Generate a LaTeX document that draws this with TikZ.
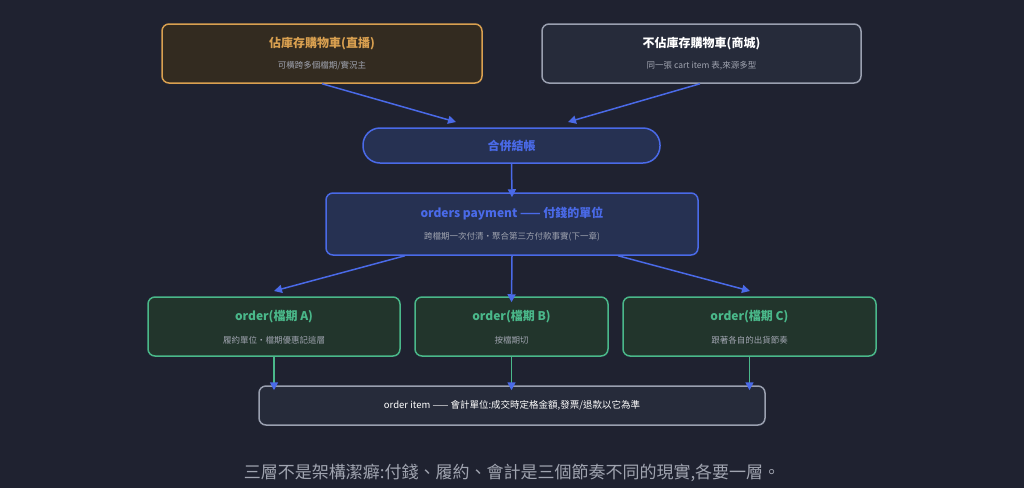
\documentclass[tikz,border=0pt]{standalone}
\usepackage{fontspec}
\setmainfont{Noto Sans CJK TC}
\usetikzlibrary{arrows.meta,positioning}
\definecolor{bgc}{HTML}{1F2230}
\definecolor{orgline}{HTML}{D9A050}
\definecolor{orgfill}{HTML}{332B20}
\definecolor{grayline}{HTML}{9AA0B0}
\definecolor{grayfill}{HTML}{262B3A}
\definecolor{blueline}{HTML}{4A6AE8}
\definecolor{bluefill}{HTML}{263152}
\definecolor{grnline}{HTML}{4AB88A}
\definecolor{grnfill}{HTML}{22352C}
\definecolor{subtxt}{HTML}{A0A4B0}
\tikzset{
  box/.style={draw, line width=1.5pt, rounded corners=7pt, inner sep=0pt, align=center},
  ttl/.style={font=\bfseries\fontsize{12}{14}\selectfont},
  sub/.style={font=\fontsize{8.5}{10}\selectfont, text=subtxt},
  arr/.style={blueline, line width=1.5pt, -{Triangle[length=8pt,width=8pt]}},
  garr/.style={grnline, line width=1.5pt, -{Triangle[length=8pt,width=8pt,color=blueline]}}
}
\begin{document}
\begin{tikzpicture}[x=1pt,y=-1pt]
  \fill[bgc] (0,0) rectangle (1024,488);
  \useasboundingbox (0,0) rectangle (1024,488);
  % carts
  \node[box, draw=orgline, fill=orgfill, minimum width=320pt, minimum height=59pt] (cartA) at (322,53.5) {};
  \node[ttl, text=orgline] at (322,44) {佔庫存購物車(直播)};
  \node[sub] at (322,66) {可橫跨多個檔期/實況主};
  \node[box, draw=grayline, fill=grayfill, minimum width=319pt, minimum height=59pt] (cartB) at (701.5,53.5) {};
  \node[ttl, text=white] at (701.5,44) {不佔庫存購物車(商城)};
  \node[sub] at (701.5,66) {同一張 cart item 表,來源多型};
  % merge
  \node[box, draw=blueline, fill=bluefill, rounded corners=17pt, minimum width=297pt, minimum height=35pt, ttl, text=blueline] (merge) at (511.5,145.5) {合併結帳};
  % payment
  \node[box, draw=blueline, fill=bluefill, minimum width=372pt, minimum height=62pt] (pay) at (512,224) {};
  \node[ttl, text=blueline] at (512,214) {orders payment —— 付錢的單位};
  \node[sub] at (512,237) {跨檔期一次付清・聚合第三方付款事實(下一章)};
  % orders
  \node[box, draw=grnline, fill=grnfill, minimum width=252pt, minimum height=59pt] (ordA) at (274,326.5) {};
  \node[ttl, text=grnline] at (274,317) {order(檔期 A)};
  \node[sub] at (274,340) {履約單位・檔期優惠記這層};
  \node[box, draw=grnline, fill=grnfill, minimum width=193pt, minimum height=59pt] (ordB) at (511.5,326.5) {};
  \node[ttl, text=grnline] at (511.5,317) {order(檔期 B)};
  \node[sub] at (511.5,340) {按檔期切};
  \node[box, draw=grnline, fill=grnfill, minimum width=253pt, minimum height=59pt] (ordC) at (749.5,326.5) {};
  \node[ttl, text=grnline] at (749.5,317) {order(檔期 C)};
  \node[sub] at (749.5,340) {跟著各自的出貨節奏};
  % item
  \node[box, draw=grayline, fill=grayfill, minimum width=506pt, minimum height=39pt, font=\fontsize{9.5}{11}\selectfont, text=white] (item) at (512,405.5) {order item —— 會計單位:成交時定格金額,發票/退款以它為準};
  % footer
  \node[font=\fontsize{17}{20}\selectfont, text=subtxt] (note) at (512,473) {三層不是架構潔癖:付錢、履約、會計是三個節奏不同的現實,各要一層。};
  % connectors
  \coordinate (mA) at (456,122);
  \coordinate (mB) at (568,122);
  \coordinate (pA) at (274,291);
  \coordinate (pC) at (750,291);
  \draw[arr] ([xshift=0pt]cartA.south) -- (mA);
  \draw[arr] ([xshift=-1.5pt]cartB.south) -- (mB);
  \draw[arr] (merge.south) -- ([yshift=-5pt]pay.north);
  \draw[arr] ([xshift=-107pt]pay.south) -- (pA);
  \draw[arr] (pay.south) -- ([yshift=-6pt]ordB.north);
  \draw[arr] ([xshift=106pt]pay.south) -- (pC);
  \draw[garr] (ordA.south) -- ([yshift=-5pt]item.north -| ordA.south);
  \draw[garr] (ordB.south) -- ([yshift=-5pt]item.north -| ordB.south);
  \draw[garr] (ordC.south) -- ([yshift=-5pt]item.north -| ordC.south);
\end{tikzpicture}
\end{document}
